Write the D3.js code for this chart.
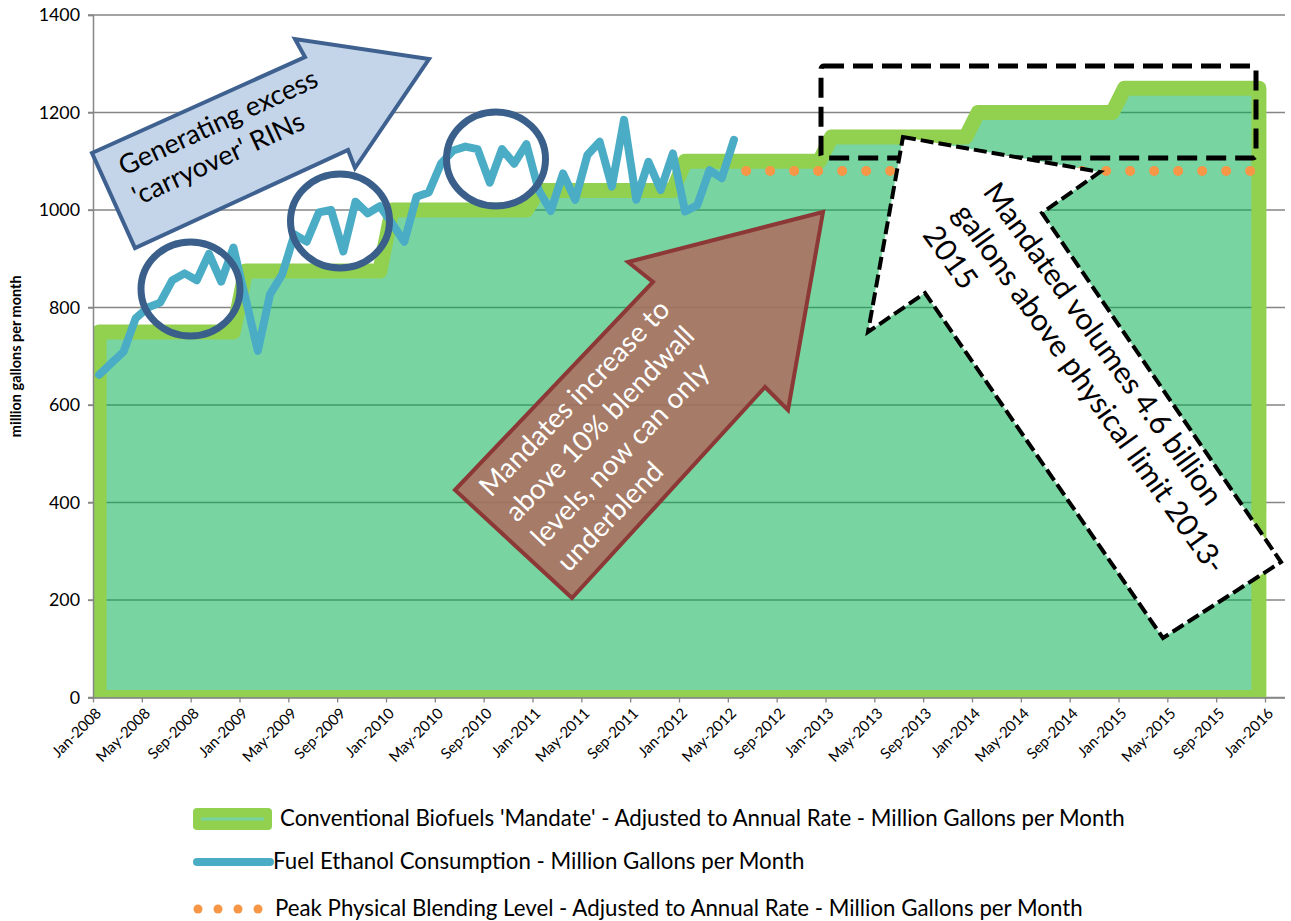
<!DOCTYPE html>
<html>
<head>
<meta charset="utf-8">
<script src="https://cdn.jsdelivr.net/npm/d3@7"></script>
<style>
  body { margin: 0; background: #fff; }
  text { font-family: Lato, "Open Sans", sans-serif; }
</style>
</head>
<body>
<svg id="chart" width="1291" height="921"></svg>
<script>
// ---- data ----
const monthNames = ["Jan", "Feb", "Mar", "Apr", "May", "Jun", "Jul", "Aug", "Sep", "Oct", "Nov", "Dec"];
const startYear = 2008;

// conventional biofuels mandate, annual rate / 12, one value per year 2008..2015
const mandateYears = [2008, 2009, 2010, 2011, 2012, 2013, 2014, 2015];
const mandateValues = [750, 875, 1000, 1040, 1100, 1150, 1200, 1250];

// fuel ethanol consumption, monthly Jan-2008 .. May-2012
const ethanolValues = [
  662, 686, 709, 778, 800, 810, 856, 870, 856, 910, 853, 923,      // 2008
  818, 711, 827, 868, 950, 935, 995, 1000, 915, 1017, 993, 1008,   // 2009
  972, 935, 1027, 1036, 1095, 1122, 1130, 1125, 1056, 1125, 1095, 1135, // 2010
  1041, 998, 1075, 1021, 1113, 1140, 1048, 1185, 1021, 1099, 1041, 1116, // 2011
  997, 1010, 1082, 1065, 1144                                       // 2012
];

// peak physical blending level, Jun-2012 .. Dec-2015
const peakStartMonth = 53;
const peakEndMonth = 95;
const peakLevel = 1080;

const yTicks = [0, 200, 400, 600, 800, 1000, 1200, 1400];
const xTickMonths = d3.range(0, 97, 4);

const legendLabels = [
  "Conventional Biofuels 'Mandate' - Adjusted to Annual Rate - Million Gallons per Month",
  "Fuel Ethanol Consumption - Million Gallons per Month",
  "Peak Physical Blending Level - Adjusted to Annual Rate - Million Gallons per Month"
];
const yTitle = "million gallons per month";
const noteBlue = ["Generating excess", "'carryover' RINs"];
const noteBrown = ["Mandates increase to", "above 10% blendwall", "levels, now can only", "underblend"];
const noteWhite = ["Mandated volumes 4.6 billion", "gallons above physical limit 2013-", "2015"];

// ---- setup ----
const svg = d3.select("#chart");
const W = 1291, H = 921;
const plotLeft = 93, plotRight = 1285, plotTop = 15, plotBottom = 697.5;

const x = d3.scaleLinear().domain([0, 96]).range([plotLeft, 1265]);
const y = d3.scaleLinear().domain([0, 1400]).range([plotBottom, plotTop]);

const green = "#92D050", fillGreen = "#00B050", aqua = "#4BACC6", orange = "#F79646", navy = "#3A5F8B";
const gridGray = "#868686";

svg.append("rect").attr("width", W).attr("height", H).attr("fill", "#fff");

// scale factor so Lato widths match the original Calibri text
const probe = svg.append("text").attr("font-size", 20).text(legendLabels[0]);
const k = 845 / probe.node().getComputedTextLength();
probe.remove();
const fs = s => s * k;

function monthLabel(i) {
  return monthNames[i % 12] + "-" + (startYear + Math.floor(i / 12));
}

svg.append("clipPath").attr("id", "plotClip")
  .append("rect")
  .attr("x", plotLeft).attr("y", 0)
  .attr("width", plotRight - plotLeft).attr("height", plotBottom);

// gridlines
svg.append("g").attr("class", "grid")
  .selectAll("line").data(yTicks).enter().append("line")
  .attr("x1", plotLeft - 5).attr("x2", plotRight)
  .attr("y1", d => y(d)).attr("y2", d => y(d))
  .attr("stroke", gridGray).attr("stroke-width", 1.3);

// mandate area (monthly steps)
const mandateMonthly = d3.range(96).map(i => ({ m: i, v: mandateValues[Math.floor(i / 12)] }));
const area = d3.area()
  .x(d => x(d.m + 0.5))
  .y0(y(0))
  .y1(d => y(d.v));

svg.append("path")
  .datum(mandateMonthly)
  .attr("clip-path", "url(#plotClip)")
  .attr("d", area)
  .attr("fill", fillGreen).attr("fill-opacity", 0.53)
  .attr("stroke", green).attr("stroke-width", 15)
  .attr("stroke-linejoin", "round");

// axes
const yAxis = d3.axisLeft(y).tickValues(yTicks).tickFormat(d3.format("d")).tickSize(5).tickPadding(8);
const gy = svg.append("g").attr("transform", `translate(${plotLeft},0)`).call(yAxis);
gy.select(".domain").attr("stroke", gridGray).attr("stroke-width", 1.5);
gy.selectAll(".tick line").attr("stroke", gridGray).attr("stroke-width", 1.3);
gy.selectAll(".tick text").attr("font-size", fs(16)).attr("fill", "#000");

const xAxis = d3.axisBottom(x).tickValues(xTickMonths).tickFormat(monthLabel).tickSize(5);
const gx = svg.append("g").attr("transform", `translate(0,${plotBottom})`).call(xAxis);
gx.select(".domain").remove();
gx.selectAll(".tick line").attr("stroke", gridGray).attr("stroke-width", 1.3);
gx.selectAll(".tick text")
  .attr("font-size", fs(13.5)).attr("fill", "#000")
  .attr("text-anchor", "end")
  .attr("x", 0).attr("y", 0).attr("dy", "0.35em")
  .attr("transform", "translate(5,13) rotate(-45)");
svg.append("line")
  .attr("x1", plotLeft).attr("x2", plotRight)
  .attr("y1", plotBottom + 0.5).attr("y2", plotBottom + 0.5)
  .attr("stroke", gridGray).attr("stroke-width", 1.5);

// y title
svg.append("text")
  .attr("transform", `translate(21,${(plotTop + plotBottom) / 2}) rotate(-90)`)
  .attr("text-anchor", "middle")
  .attr("font-weight", "bold")
  .attr("font-size", fs(13))
  .text(yTitle);

// peak physical blending level (round dots)
const peakData = d3.range(peakStartMonth, peakEndMonth + 1).map(m => ({ m, v: peakLevel }));
const line = d3.line().x(d => x(d.m + 0.5)).y(d => y(d.v));
svg.append("path")
  .datum(peakData)
  .attr("d", line)
  .attr("fill", "none")
  .attr("stroke", orange).attr("stroke-width", 10)
  .attr("stroke-linecap", "round")
  .attr("stroke-dasharray", "0,24");

// ethanol consumption
const ethanolData = ethanolValues.map((v, i) => ({ m: i, v }));
svg.append("path")
  .datum(ethanolData)
  .attr("d", line)
  .attr("fill", "none")
  .attr("stroke", aqua).attr("stroke-width", 8)
  .attr("stroke-linejoin", "round").attr("stroke-linecap", "round");

// ---- annotations ----
const circles = [[190.5, 289], [340, 221], [496, 159]];
svg.append("g").selectAll("ellipse").data(circles).enter().append("ellipse")
  .attr("cx", d => d[0]).attr("cy", d => d[1])
  .attr("rx", 49.5).attr("ry", 47)
  .attr("fill", "none").attr("stroke", navy).attr("stroke-width", 7);

const polyLine = d3.line().curve(d3.curveLinearClosed);

// blue arrow
svg.append("path")
  .attr("d", polyLine([[92, 153], [305, 57], [295, 39], [429, 59], [355, 168], [348, 150], [135, 248]]))
  .attr("fill", "#C4D5EA").attr("stroke", "#3E6190").attr("stroke-width", 4)
  .attr("stroke-linejoin", "miter");

// brown arrow
svg.append("path")
  .attr("d", polyLine([[572, 598], [455, 490], [653, 282], [628, 262], [823, 212], [788, 410], [765, 387]]))
  .attr("fill", "rgb(174,108,94)").attr("fill-opacity", 0.85)
  .attr("stroke", "#8C3836").attr("stroke-width", 4);

// dashed box around 2013-2015
svg.append("rect")
  .attr("x", 821).attr("y", 66).attr("width", 435).attr("height", 92).attr("rx", 3)
  .attr("fill", "none").attr("stroke", "#000").attr("stroke-width", 5)
  .attr("stroke-dasharray", "20,9");

// white dashed arrow
svg.append("path")
  .attr("d", polyLine([[903, 137], [1100, 172], [1042, 213], [1281, 562], [1163, 638], [925, 293], [868, 332]]))
  .attr("fill", "#fff").attr("stroke", "#000").attr("stroke-width", 4)
  .attr("stroke-dasharray", "13,5");

function note(lines, x0, y0, angle, target, spacing, color) {
  const g = svg.append("g").attr("transform", `translate(${x0},${y0}) rotate(${angle})`);
  const t0 = g.append("text").attr("font-size", 30).text(lines[0]);
  const size = 30 * target / t0.node().getComputedTextLength();
  t0.remove();
  lines.forEach((t, i) => {
    g.append("text").attr("x", 0).attr("y", i * spacing)
      .attr("font-size", size).attr("fill", color).text(t);
  });
}
note(noteBlue, 124, 176, -24.8, 216, 33, "#000");
note(noteBrown, 491, 498, -46, 260, 36, "#fff");
note(noteWhite, 982, 192, 54.5, 388, 37, "#000");

// ---- legend ----
const lg = svg.append("g").attr("font-size", fs(20));
lg.append("rect").attr("x", 193).attr("y", 808).attr("width", 79).attr("height", 22).attr("rx", 4)
  .attr("fill", green);
lg.append("line").attr("x1", 201).attr("x2", 264).attr("y1", 819).attr("y2", 819)
  .attr("stroke", "#77D4A0").attr("stroke-width", 3);
lg.append("text").attr("x", 280).attr("y", 826).text(legendLabels[0]);

lg.append("line").attr("x1", 197).attr("x2", 270).attr("y1", 862).attr("y2", 862)
  .attr("stroke", aqua).attr("stroke-width", 8).attr("stroke-linecap", "round");
lg.append("text").attr("x", 273).attr("y", 869).text(legendLabels[1]);

lg.selectAll("circle.ld").data([198, 218, 238, 258]).enter().append("circle")
  .attr("class", "ld")
  .attr("cx", d => d).attr("cy", 909).attr("r", 4.5).attr("fill", orange);
lg.append("text").attr("x", 275).attr("y", 916).text(legendLabels[2]);
</script>
</body>
</html>
